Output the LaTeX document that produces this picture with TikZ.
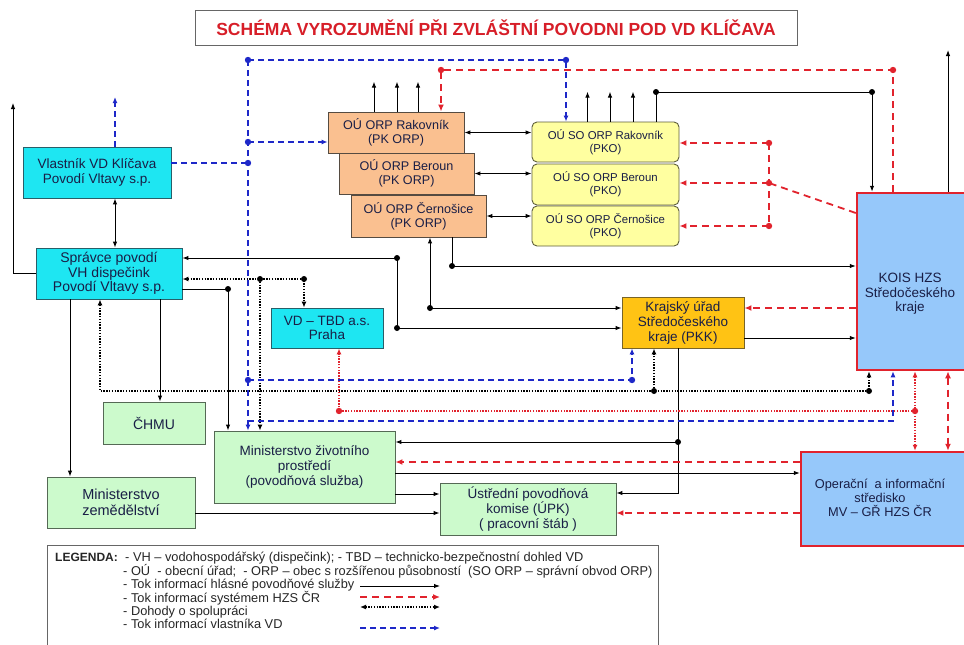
\documentclass[tikz,border=0pt]{standalone}
\usepackage{fontspec}
\setmainfont{Liberation Sans}
\usepackage{xcolor}
\usepackage{tikz}
\usetikzlibrary{arrows.meta}

\definecolor{boxtext}{RGB}{25,30,70}
\definecolor{cyanfill}{RGB}{30,230,242}
\definecolor{cyanedge}{RGB}{40,95,105}
\definecolor{orpfill}{RGB}{250,192,144}
\definecolor{orpedge}{RGB}{85,75,65}
\definecolor{sofill}{RGB}{255,255,160}
\definecolor{soedge}{RGB}{95,95,60}
\definecolor{krajfill}{RGB}{255,195,20}
\definecolor{krajedge}{RGB}{120,100,40}
\definecolor{greenfill}{RGB}{204,250,204}
\definecolor{greenedge}{RGB}{85,105,85}
\definecolor{hzsfill}{RGB}{150,200,250}
\definecolor{hzsred}{RGB}{225,35,45}
\definecolor{vlblue}{RGB}{30,40,200}
\definecolor{titlered}{RGB}{215,30,40}

\tikzset{
  boxbase/.style={draw=#1, line width=0.9pt, inner sep=0pt, align=center, text=boxtext},
  cyanbox/.style={boxbase=cyanedge, fill=cyanfill, font=\fontsize{13.5}{14.5}\selectfont},
  orpbox/.style={boxbase=orpedge, fill=orpfill, font=\fontsize{12.6}{14}\selectfont},
  sobox/.style={boxbase=soedge, fill=sofill, rounded corners=5pt, font=\fontsize{11.4}{13}\selectfont},
  greenbox/.style={boxbase=greenedge, fill=greenfill, font=\fontsize{13.5}{15}\selectfont},
  krajbox/.style={boxbase=krajedge, fill=krajfill, font=\fontsize{13.5}{15}\selectfont},
  hzsbox/.style={draw=hzsred, line width=2.5pt, fill=hzsfill, inner sep=0pt},
  hzstext/.style={align=center, text=boxtext, font=\fontsize{13.5}{14.5}\selectfont},
  titlebox/.style={draw=black!60, line width=0.9pt, fill=white, text=titlered, font=\fontsize{17.5}{19}\selectfont\bfseries},
  legtxt/.style={text=black!85, inner sep=0pt, font=\fontsize{12.8}{13}\selectfont},
  tip/.style={-{Latex[length=6pt,width=4.5pt]}},
  tok/.style={draw=black, line width=1pt, tip},
  tokboth/.style={tok, {Latex[length=6pt,width=4.5pt]}-{Latex[length=6pt,width=4.5pt]}},
  hzs/.style={draw=hzsred, line width=1.8pt, dash pattern=on 7pt off 5pt, -{Latex[length=7pt,width=6pt]}},
  hzsboth/.style={hzs, {Latex[length=7pt,width=6pt]}-{Latex[length=7pt,width=6pt]}},
  hzsdot/.style={draw=hzsred, line width=1.8pt, dash pattern=on 1.4pt off 1.4pt, -{Latex[length=6pt,width=5pt]}},
  hzsdotboth/.style={hzsdot, {Latex[length=6pt,width=5pt]}-{Latex[length=6pt,width=5pt]}},
  doh/.style={draw=black, line width=2pt, dash pattern=on 1.4pt off 1.4pt, -{Latex[length=6pt,width=5pt]}},
  dohboth/.style={doh, {Latex[length=6pt,width=5pt]}-{Latex[length=6pt,width=5pt]}},
  vl/.style={draw=vlblue, line width=1.4pt, dash pattern=on 6pt off 4pt, -{Latex[length=6pt,width=5pt]}},
}

\begin{document}
\begin{tikzpicture}[x=1pt,y=-1pt]
\useasboundingbox[fill=white] (0,0) rectangle (964,645);

% boxes
\node[titlebox, minimum width=602pt, minimum height=35pt] (title) at (496,27.5) {SCHÉMA VYROZUMĚNÍ PŘI ZVLÁŠTNÍ POVODNI POD VD KLÍČAVA};
\node[cyanbox, minimum width=148pt, minimum height=51pt] (vlast) at (97,172.5) {Vlastník VD Klíčava\\Povodí Vltavy s.p.};
\node[cyanbox, font=\fontsize{14}{14.5}\selectfont, minimum width=146pt, minimum height=51pt] (spr) at (109,273.5) {Správce povodí\\VH dispečink\\Povodí Vltavy s.p.};
\node[cyanbox, minimum width=112pt, minimum height=40pt] (tbd) at (327,328) {VD – TBD a.s.\\Praha};
\node[greenbox, font=\fontsize{14}{15}\selectfont, minimum width=102pt, minimum height=42pt] (chmu) at (154,423) {ČHMU};
\node[greenbox, minimum width=181pt, minimum height=72pt] (mzp) at (304.5,467) {Ministerstvo životního\\prostředí\\(povodňová služba)};
\node[greenbox, font=\fontsize{14.5}{16}\selectfont, minimum width=148pt, minimum height=51pt] (mze) at (121,502.5) {Ministerstvo\\zemědělství};
\node[greenbox, minimum width=176pt, minimum height=52pt] (upk) at (528,509) {Ústřední povodňová\\komise (ÚPK)\\( pracovní štáb )};

\node[orpbox, minimum width=136pt, minimum height=41pt] (orp1) at (396,132.5) {OÚ ORP Rakovník\\(PK ORP)};
\node[orpbox, minimum width=135pt, minimum height=41pt] (orp2) at (406.5,173.5) {OÚ ORP Beroun\\(PK ORP)};
\node[orpbox, minimum width=135pt, minimum height=42pt] (orp3) at (418.5,216) {OÚ ORP Černošice\\(PK ORP)};
\node[sobox, minimum width=147pt, minimum height=40pt] (so1) at (605.5,142) {OÚ SO ORP Rakovník\\(PKO)};
\node[sobox, minimum width=147pt, minimum height=41pt] (so2) at (605.5,184.5) {OÚ SO ORP Beroun\\(PKO)};
\node[sobox, minimum width=147pt, minimum height=40pt] (so3) at (605.5,226) {OÚ SO ORP Černošice\\(PKO)};

\node[krajbox, minimum width=122pt, minimum height=51pt] (kk) at (683,322.5) {Krajský úřad\\Středočeského\\kraje (PKK)};
\node[hzsbox, minimum width=113pt, minimum height=177pt] (kois) at (913.5,281.5) {};
\node[hzstext] (kois-t) at (910,294) {KOIS HZS\\Středočeského\\kraje};
\node[hzsbox, minimum width=169pt, minimum height=94pt] (ois) at (885.5,499) {};
\node[hzstext, font=\fontsize{12.8}{14}\selectfont] (ois-t) at (880,498) {Operační~ a informační\\středisko\\MV – GŘ HZS ČR};

% junctions and free ends
\coordinate (lup) at (13,103);
\coordinate (vlup) at (115,97);
\coordinate (kup) at (948,50);
\coordinate (j1) at (228,289);
\coordinate (j2) at (397,258);
\coordinate (j3) at (397,328);
\coordinate (j4) at (430,308);
\coordinate (j5) at (452,266);
\coordinate (j6) at (656,92);
\coordinate (j7) at (872,92);
\coordinate (j8) at (678,442);
\coordinate (j9) at (678,493);
\coordinate (r1) at (441,70);
\coordinate (r2) at (893,70);
\coordinate (r3) at (769,143);
\coordinate (r4) at (769,183);
\coordinate (r5) at (769,226);
\coordinate (r6) at (339,411);
\coordinate (r7) at (915,411);
\coordinate (d1) at (260,279);
\coordinate (d2) at (304,279);
\coordinate (d3) at (100,391);
\coordinate (d4) at (654,391);
\coordinate (d5) at (869,391);
\coordinate (b1) at (248,60);
\coordinate (b2) at (566,60);
\coordinate (b3) at (248,142);
\coordinate (b4) at (248,163);
\coordinate (b5) at (248,380);
\coordinate (b6) at (632,380);
\coordinate (b7) at (893,421);
\coordinate (b8) at (248,421);

% tok informaci hlasne povodnove sluzby
\draw[tok] (spr.west) -| (lup);
\draw[tokboth] (vlast.south -| vlup) -- (spr.north -| vlup);
\draw[tok] ([xshift=-39pt]spr.south) -- ([xshift=-39pt]spr.south |- mze.north);
\draw[tok] ([xshift=51pt]spr.south) -- ([xshift=51pt]spr.south |- chmu.north);
\draw[tok] (spr.east |- j1) -- (j1) -- (j1 |- mzp.north);
\draw[tokboth] (spr.east |- j2) -- (j2) -- (j3) -- (kk.west |- j3);
\draw[tokboth] (orp3.south -| j4) -- (j4) -- (kk.west |- j4);
\draw[tok] (orp3.south -| j5) -- (j5) -- (kois.west |- j5);
\draw[tok] ([yshift=-15.5pt]kk.east) -- ([yshift=-15.5pt]kk.east -| kois.west);
\draw[tok] (kk.south -| j8) -- (j8) -- (mzp.east |- j8);
\draw[tok] (j8) -- (j9) -- (upk.east |- j9);
\draw[tok] ([yshift=-6pt]mzp.east) -- ([yshift=-6pt]mzp.east -| ois.west);
\draw[tok] ([yshift=-27pt]mzp.east) -- ([yshift=-27pt]mzp.east -| upk.west);
\draw[tok] ([yshift=-10.5pt]mze.east) -- ([yshift=-10.5pt]mze.east -| upk.west);
\draw[tokboth] (orp1.east) -- (so1.west |- orp1.east);
\draw[tokboth] (orp2.east) -- (so2.west |- orp2.east);
\draw[tokboth] (orp3.east) -- (so3.west |- orp3.east);
\foreach \dx in {-22,1,22}
  \draw[tok] ([xshift=\dx pt]orp1.north) -- ++(0,-30);
\foreach \dx in {-18,4.5,27.5}
  \draw[tok] ([xshift=\dx pt]so1.north) -- ++(0,-30);
\draw[tok] (so1.north -| j6) -- (j6) -- (j7) -- (kois.north -| j7);
\draw[tok] (kois.north -| kup) -- (kup);

% tok informaci systemem HZS
\draw[hzs] (kois.north -| r2) -- (r2) -- (r1) -- (orp1.north -| r1);
\draw[hzs,-] ([yshift=68.5pt]kois.west) -- (r4);
\draw[hzs,-] (r3) -- (r5);
\draw[hzs] (r3) -- (so1.east |- r3);
\draw[hzs] (r4) -- (so2.east |- r4);
\draw[hzs] (r5) -- (so3.east |- r5);
\draw[hzs] ([yshift=-26.5pt]kois.west) -- ([yshift=-26.5pt]kois.west -| kk.east);
\draw[hzs] ([yshift=37pt]ois.west) -- ([yshift=37pt]ois.west -| mzp.east);
\draw[hzs] ([yshift=-14pt]ois.west) -- ([yshift=-14pt]ois.west -| upk.east);
\draw[hzsboth] ([xshift=34.5pt]kois.south) -- ([xshift=34.5pt]kois.south |- ois.north);
\draw[hzsdotboth] ([xshift=1.5pt]kois.south) -- ([xshift=1.5pt]kois.south |- ois.north);
\draw[hzsdot] (r7) -- (r6) -- (tbd.south -| r6);

% dohody o spolupraci
\draw[dohboth] (spr.east |- d1) -- (d1) -- (d2) -- (tbd.north -| d2);
\draw[doh] (d1) -- (mzp.north -| d1);
\draw[dohboth] (spr.south -| d3) -- (d3) -- (d5) -- (kois.south -| d5);
\draw[doh] (d4) -- (kk.south -| d4);

% tok informaci vlastnika VD
\draw[vl] (vlast.north -| vlup) -- (vlup);
\draw[vl,-] (vlast.east |- b4) -- (b4);
\draw[vl] (b1) -- (mzp.north -| b1);
\draw[vl] (b1) -- (b2) -- (so1.north -| b2);
\draw[vl] (b3) -- (orp1.west |- b3);
\draw[vl] (b5) -- (b6) -- (kk.south -| b6);
\draw[vl] (b8) -- (b7) -- (kois.south -| b7);

% dots
\foreach \p in {j1,j2,j3,j4,j5,j6,j7,j8,d1,d2,d4,d5}
  \fill[black] (\p) circle (3pt);
\foreach \p in {r1,r2,r3,r4,r5,r6,r7}
  \fill[hzsred] (\p) circle (3.2pt);
\foreach \p in {b1,b2,b3,b4,b5,b6}
  \fill[vlblue] (\p) circle (3.2pt);

% legend
\draw[black!60, line width=1pt] (47,545) rectangle (658,662);
\node[legtxt, font=\fontsize{12}{13}\selectfont\bfseries, anchor=base west] (leg0) at (55,561) {LEGENDA:};
\node[legtxt, anchor=base west] (leg1) at (125,561) {- VH – vodohospodářský (dispečink); - TBD – technicko-bezpečnostní dohled VD};
\node[legtxt, anchor=base west] (leg2) at (123,575) {- OÚ~ - obecní úřad;~ - ORP – obec s rozšířenou působností~ (SO ORP – správní obvod ORP)};
\node[legtxt, anchor=base west] (leg3) at (123,588) {- Tok informací hlásné povodňové služby};
\node[legtxt, anchor=base west] (leg4) at (123,602) {- Tok informací systémem HZS ČR};
\node[legtxt, anchor=base west] (leg5) at (123,615) {- Dohody o spolupráci};
\node[legtxt, anchor=base west] (leg6) at (123,628) {- Tok informací vlastníka VD};
\coordinate (la0) at (360,586); \coordinate (la1) at (440,586);
\coordinate (lb0) at (360,597); \coordinate (lb1) at (440,597);
\coordinate (lc0) at (360,607); \coordinate (lc1) at (440,607);
\coordinate (ld0) at (360,628); \coordinate (ld1) at (440,628);
\draw[tok] (la0) -- (la1);
\draw[hzs] (lb0) -- (lb1);
\draw[dohboth] (lc0) -- (lc1);
\draw[vl] (ld0) -- (ld1);
\end{tikzpicture}
\end{document}
